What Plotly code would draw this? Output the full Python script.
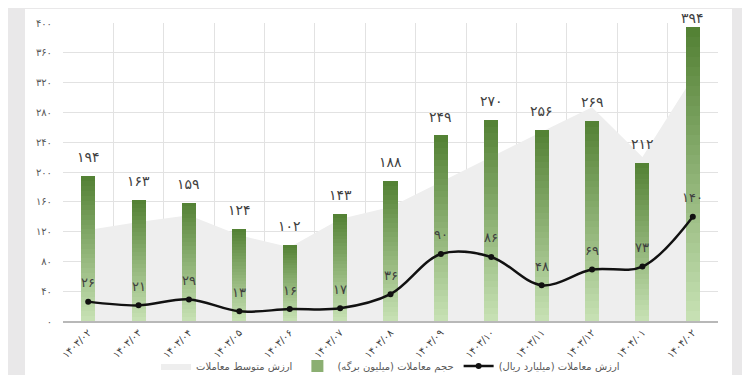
import plotly.graph_objects as go

categories = ["1403/02", "1403/03", "1403/04", "1403/05", "1403/06", "1403/07", "1403/08",
              "1403/09", "1403/10", "1403/11", "1403/12", "1404/01", "1404/02"]
bar_values = [194, 163, 159, 124, 102, 143, 188, 249, 270, 256, 269, 212, 394]
line_values = [26, 21, 29, 13, 16, 17, 36, 90, 86, 48, 69, 73, 140]
area_values = [122, 133, 142, 115, 99, 137, 153, 187, 220, 254, 287, 220, 327]
y_ticks = [0, 40, 80, 120, 160, 200, 240, 280, 320, 360, 400]

name_area = "ارزش متوسط معاملات"
name_bar = "حجم معاملات (میلیون برگه)"
name_line = "ارزش معاملات (میلیارد ریال)"

FA = str.maketrans("0123456789", "۰۱۲۳۴۵۶۷۸۹")
def fa(v):
    return str(v).translate(FA)

idx = list(range(len(categories)))
FONT = "DejaVu Sans"

# page body adds an 8px offset; figure pixel coords = window coords - 8
OFF = 8
W, H = 750 - OFF, 375 - OFF
L, R, T, B = 63 - OFF, 718 - OFF, 23 - OFF, 321 - OFF

def px_x(p):
    return (p - OFF - L) / (R - L)

def px_y(p):
    return (B - (p - OFF)) / (B - T)

fig = go.Figure()

# background area (primary axes, drawn beneath the overlay subplot)
fig.add_trace(go.Scatter(
    x=idx, y=area_values, mode="lines", fill="tozeroy",
    line=dict(color="#e6e6e6", width=0), fillcolor="#eeeeee",
    name=name_area, hoverinfo="skip"))

# gradient bars (stacked slices) on overlay axes
N = 30
c_top = (0x52, 0x80, 0x33)
c_bot = (0xc8, 0xe2, 0xb5)
for k in range(N):
    t = (k + 0.5) / N
    col = tuple(round(c_bot[j] + (c_top[j] - c_bot[j]) * t) for j in range(3))
    fig.add_trace(go.Bar(
        x=idx, y=[v / N for v in bar_values], width=0.28,
        xaxis="x2", yaxis="y2",
        marker=dict(color="rgb(%d,%d,%d)" % col, line=dict(width=0)),
        name=name_bar, showlegend=(k == N // 2), legendgroup="bars",
        hoverinfo="skip"))

# line
fig.add_trace(go.Scatter(
    x=idx, y=line_values, mode="lines+markers", xaxis="x2", yaxis="y2",
    line=dict(color="#111111", width=2.5, shape="spline", smoothing=1.0),
    marker=dict(color="#111111", size=6),
    name=name_line))

ppu = (B - T) / 400.0
for i, v in enumerate(bar_values):
    top_px = B - v * ppu
    shift = min(19, max(8, top_px - 10))
    fig.add_annotation(x=i, y=v, xref="x2", yref="y2", text=fa(v), showarrow=False,
                       yshift=shift, font=dict(family=FONT, size=14, color="#404040"))
for i, v in enumerate(line_values):
    fig.add_annotation(x=i, y=v, xref="x2", yref="y2", text=fa(v), showarrow=False,
                       yshift=19, font=dict(family=FONT, size=13, color="#404040"))

# frame (window pixel coordinates)
fig.add_shape(type="rect", xref="paper", yref="paper", layer="below",
              x0=px_x(25), x1=px_x(732), y0=px_y(380), y1=px_y(9),
              fillcolor="#ffffff", line=dict(width=0))
fig.add_shape(type="rect", xref="paper", yref="paper", layer="below",
              x0=px_x(742), x1=px_x(760), y0=px_y(380), y1=px_y(0),
              fillcolor="#ffffff", line=dict(width=0))

xr = [-0.5, len(categories) - 0.5]
fig.update_layout(
    width=W, height=H,
    margin=dict(l=L, r=W - R, t=T, b=H - B, autoexpand=False),
    paper_bgcolor="#e9e8e9", plot_bgcolor="#ffffff",
    barmode="stack", bargap=0,
    font=dict(family=FONT, color="#404040"),
    showlegend=True,
    legend=dict(orientation="h", x=0.5, xanchor="center", xref="paper",
                y=(H - (366 - OFF)) / H, yanchor="middle", yref="container",
                font=dict(family=FONT, size=10, color="#595959"),
                bgcolor="rgba(0,0,0,0)", traceorder="normal"),
    xaxis=dict(range=xr, tickmode="array", tickvals=idx,
               ticktext=[fa(c) for c in categories], tickangle=-45,
               showgrid=False, zeroline=False, ticks="",
               tickfont=dict(family=FONT, size=10, color="#404040"),
               showline=True, linecolor="#b8b8b8", linewidth=2,
               minor=dict(tick0=-0.5, dtick=1, showgrid=True, gridcolor="#e2e2e2", gridwidth=1)),
    yaxis=dict(range=[0, 400], tickmode="array", tickvals=y_ticks,
               ticktext=[fa(v) for v in y_ticks], showgrid=True, gridcolor="#e2e2e2",
               gridwidth=1, zeroline=False, ticks="", ticklabelstandoff=10,
               tickfont=dict(family=FONT, size=10, color="#595959")),
    xaxis2=dict(range=xr, overlaying="x", visible=False),
    yaxis2=dict(range=[0, 400], overlaying="y", visible=False),
)

fig.write_html("out.html")
